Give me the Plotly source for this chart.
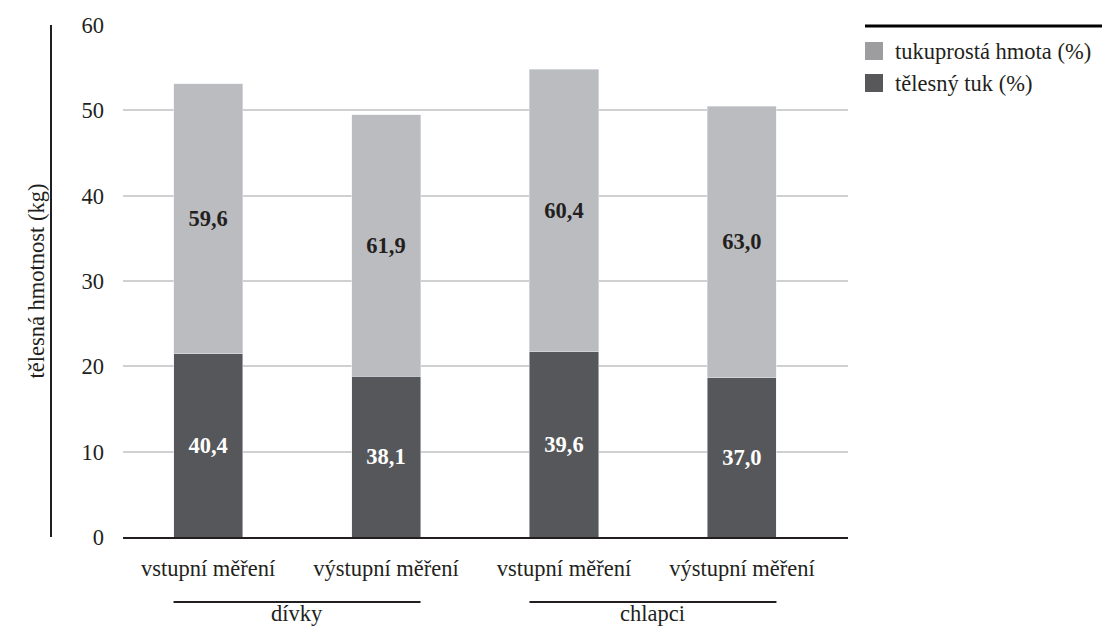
import plotly.graph_objects as go

# Measurement occasions (x axis) and the two groups beneath them
categories = ["vstupní měření", "výstupní měření", "vstupní měření", "výstupní měření"]
groups = ["dívky", "chlapci"]

# Mean body mass (kg) and composition shares (%)
total_mass_kg = [53.1, 49.5, 54.8, 50.5]
fat_pct = [40.4, 38.1, 39.6, 37.0]
lean_pct = [59.6, 61.9, 60.4, 63.0]

series_names = ["tukuprostá hmota (%)", "tělesný tuk (%)"]
y_title = "tělesná hmotnost (kg)"

fat_kg = [t * p / 100 for t, p in zip(total_mass_kg, fat_pct)]
lean_kg = [t * p / 100 for t, p in zip(total_mass_kg, lean_pct)]

FONT = "Times New Roman"
FS = 22.5
INK = "#231f20"
LIGHT = "#bbbcbf"
DARK = "#56575a"

W, H = 1106, 640
ML, MR, MT, MB = 123, 258, 25, 103
PW, PH = W - ML - MR, H - MT - MB


def px(xp):
    return (xp - ML) / PW


def py(yp):
    return (H - MB - yp) / PH


def fmt(v):
    return f"{v:.1f}".replace(".", ",")


xs = list(range(len(categories)))

fig = go.Figure()
fig.add_trace(go.Bar(
    x=xs, y=fat_kg, name=series_names[1], marker_color=DARK,
    text=[fmt(v) for v in fat_pct], textposition="inside",
    insidetextanchor="middle",
    textfont=dict(family=FONT, size=FS, color="white", weight="bold"),
    showlegend=False,
))
fig.add_trace(go.Bar(
    x=xs, y=lean_kg, name=series_names[0], marker_color=LIGHT,
    text=[fmt(v) for v in lean_pct], textposition="inside",
    insidetextanchor="middle",
    textfont=dict(family=FONT, size=FS, color=INK, weight="bold"),
    showlegend=False,
))

bar_w = 0.388
shapes = []
annotations = []

# Vertical rule beside the y-axis title
shapes.append(dict(type="line", xref="paper", yref="paper",
                   x0=px(51), x1=px(51), y0=py(537), y1=py(25),
                   line=dict(color=INK, width=2)))
annotations.append(dict(text=y_title, xref="paper", yref="paper",
                        x=px(21), y=py(281), textangle=-90, showarrow=False,
                        font=dict(family=FONT, size=FS, color=INK)))

# Group brackets under the category labels
for gi, g in enumerate(groups):
    a, b = 2 * gi, 2 * gi + 1
    shapes.append(dict(type="line", xref="x", yref="paper",
                       x0=a - bar_w / 2, x1=b + bar_w / 2,
                       y0=py(602), y1=py(602),
                       line=dict(color=INK, width=2)))
    annotations.append(dict(text=g, xref="x", yref="paper",
                            x=(a + b) / 2, y=py(628), showarrow=False,
                            font=dict(family=FONT, size=FS, color=INK)))

# Legend
shapes.append(dict(type="line", xref="paper", yref="paper",
                   x0=px(865), x1=px(1102), y0=py(26), y1=py(26),
                   line=dict(color="black", width=3)))
legend_items = [(series_names[0], "#9d9d9f", 51), (series_names[1], "#58585b", 83)]
for name, col, yc in legend_items:
    shapes.append(dict(type="rect", xref="paper", yref="paper",
                       x0=px(865), x1=px(883), y0=py(yc - 9), y1=py(yc + 9),
                       fillcolor=col, line=dict(width=0)))
    annotations.append(dict(text=name, xref="paper", yref="paper",
                            x=px(893), y=py(yc), xanchor="left", yanchor="middle",
                            showarrow=False,
                            font=dict(family=FONT, size=FS, color=INK)))

fig.update_layout(
    width=W, height=H,
    margin=dict(l=ML, r=MR, t=MT, b=MB, autoexpand=False),
    barmode="stack", bargap=1 - bar_w,
    plot_bgcolor="white", paper_bgcolor="white",
    uniformtext=dict(mode="show", minsize=10),
    shapes=shapes, annotations=annotations,
    xaxis=dict(
        range=[-0.478, 3.596], tickvals=xs, ticktext=categories,
        showgrid=False, zeroline=False, showline=True,
        linecolor=INK, linewidth=2, ticks="", ticklabelstandoff=10,
        tickfont=dict(family=FONT, size=FS, color=INK), fixedrange=True,
    ),
    yaxis=dict(
        range=[0, 60], tickvals=[0, 10, 20, 30, 40, 50, 60],
        showgrid=True, gridcolor="#d0d0d0", gridwidth=2,
        zeroline=False, showline=False, ticks="", ticklabelstandoff=18,
        tickfont=dict(family=FONT, size=FS, color=INK), fixedrange=True,
    ),
)

fig.write_html("out.html")
